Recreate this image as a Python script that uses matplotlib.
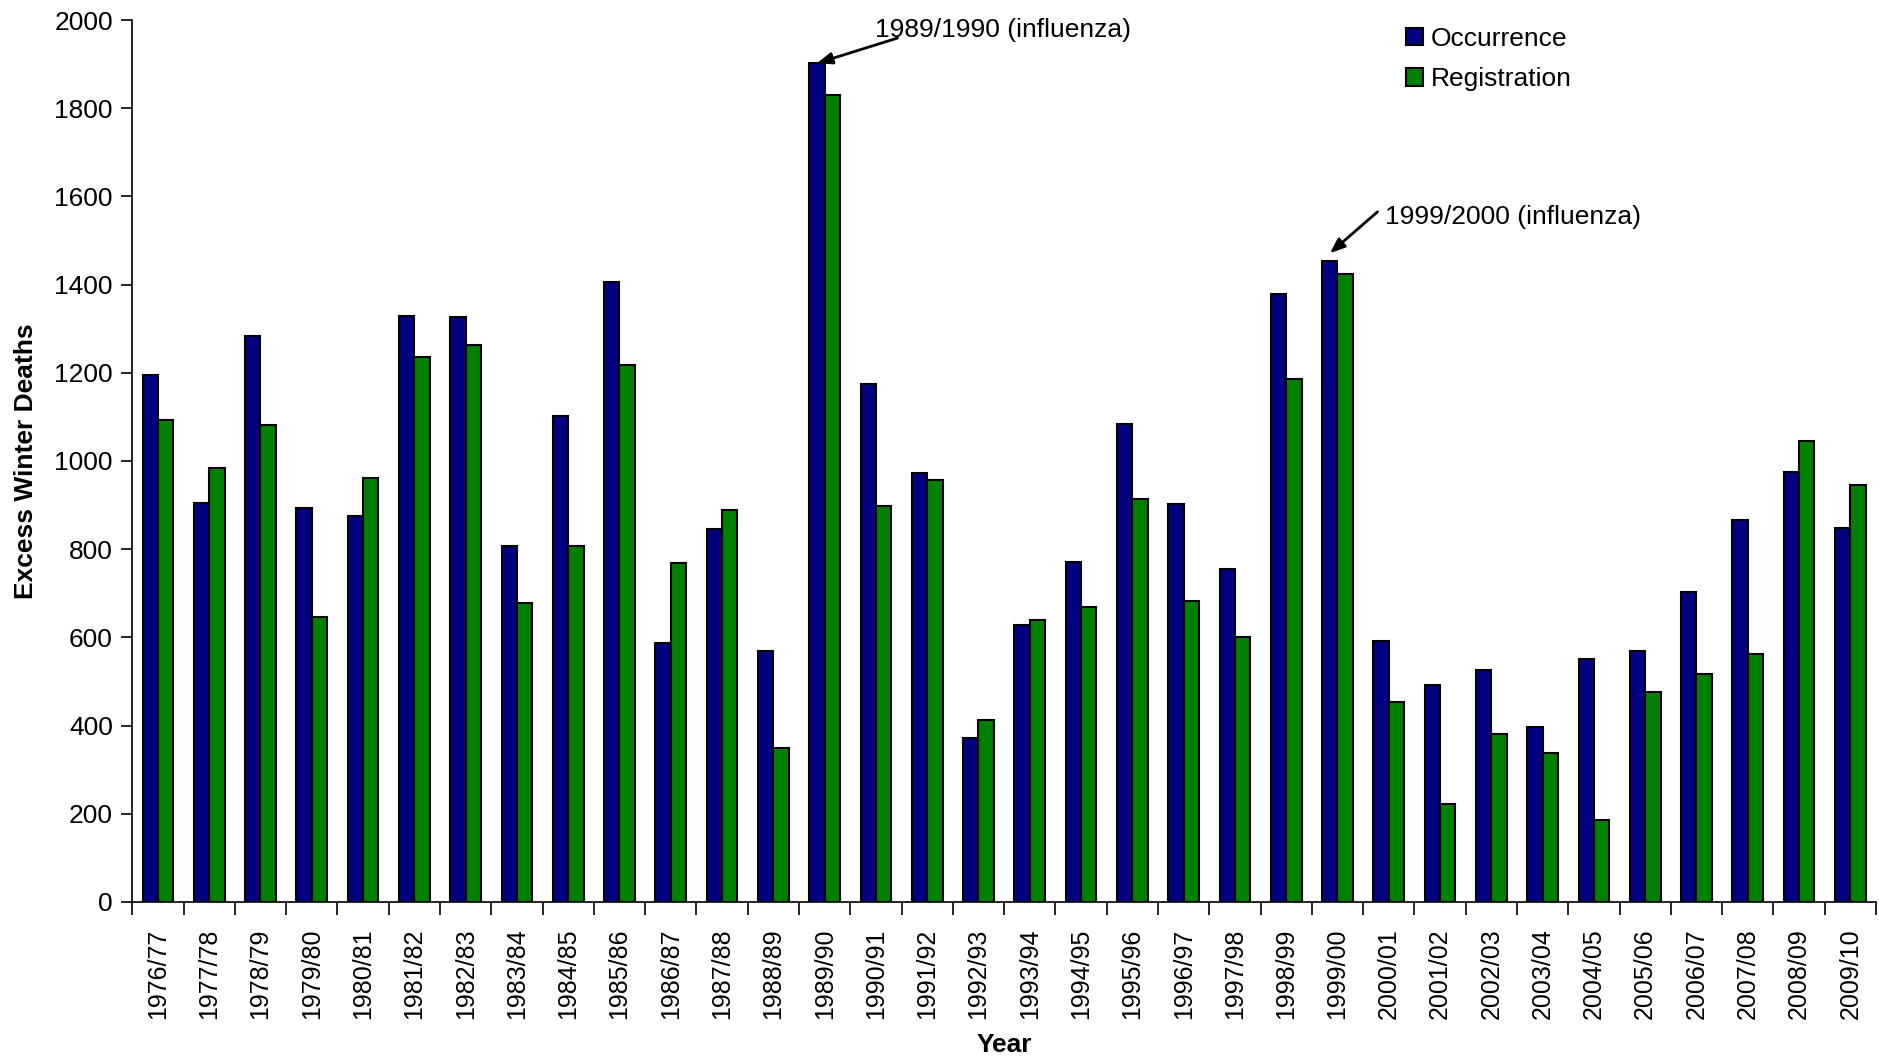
import matplotlib
matplotlib.use("Agg")
import matplotlib.pyplot as plt
import numpy as np

plt.rcParams['font.family'] = ['Liberation Sans', 'DejaVu Sans']

seasons = ["1976/77", "1977/78", "1978/79", "1979/80", "1980/81", "1981/82",
           "1982/83", "1983/84", "1984/85", "1985/86", "1986/87", "1987/88",
           "1988/89", "1989/90", "1990/91", "1991/92", "1992/93", "1993/94",
           "1994/95", "1995/96", "1996/97", "1997/98", "1998/99", "1999/00",
           "2000/01", "2001/02", "2002/03", "2003/04", "2004/05", "2005/06",
           "2006/07", "2007/08", "2008/09", "2009/10"]

occurrence = [1196, 905, 1283, 894, 875, 1329, 1326, 807, 1101, 1405, 587, 845,
              568, 1902, 1174, 973, 372, 628, 772, 1084, 902, 755, 1378, 1453,
              592, 492, 527, 397, 552, 568, 704, 867, 976, 848]

registration = [1092, 984, 1082, 647, 962, 1236, 1264, 679, 807, 1217, 769, 889,
                348, 1829, 899, 957, 413, 639, 668, 913, 682, 600, 1185, 1424,
                454, 223, 380, 337, 185, 476, 516, 562, 1046, 946]

fig = plt.figure(figsize=(18.79, 10.59), dpi=100)
ax = fig.add_axes([0.0704, 0.1483, 0.928, 0.8328])

x = np.arange(len(seasons))
w = 0.3
ax.bar(x - w / 2, occurrence, w, color="#000080", edgecolor="black",
       linewidth=1.5, label="Occurrence", zorder=2)
ax.bar(x + w / 2, registration, w, color="#008000", edgecolor="black",
       linewidth=1.5, label="Registration", zorder=2)

ax.set_xlim(-0.5, len(seasons) - 0.5)
ax.set_ylim(0, 2000)
ax.set_yticks(np.arange(0, 2001, 200))
ax.tick_params(axis="y", labelsize=19, length=8, width=1.2, direction="out", pad=6)

ax.set_xticks(x)
ax.set_xticklabels(seasons, rotation=90, fontsize=18)
ax.set_xticks(np.arange(-0.5, len(seasons), 1.0), minor=True)
ax.tick_params(axis="x", which="major", length=0, pad=19)
ax.tick_params(axis="x", which="minor", length=9, width=1.2, direction="out")

for s in ["top", "right"]:
    ax.spines[s].set_visible(False)
for s in ["left", "bottom"]:
    ax.spines[s].set_linewidth(1.2)

ax.set_ylabel("Excess Winter Deaths", fontsize=19, fontweight="bold", labelpad=12)
ax.set_xlabel("Year", fontsize=19, fontweight="bold", labelpad=10)

arrow = dict(arrowstyle="-|>,head_length=0.9,head_width=0.35", color="black",
             lw=2, shrinkA=0, shrinkB=0)
i1 = seasons.index("1989/90")
ax.annotate("", xy=(i1 - w / 2, occurrence[i1]), xytext=(i1 + 1.42, 1959),
            arrowprops=arrow, annotation_clip=False)
ax.text(i1 + 0.99, 1977, "1989/1990 (influenza)", fontsize=19,
        ha="left", va="center")

i2 = seasons.index("1999/00")
ax.annotate("", xy=(i2 - w / 2, occurrence[i2] + 18), xytext=(i2 + 0.78, 1565),
            arrowprops=arrow, annotation_clip=False)
ax.text(i2 + 0.92, 1553, "1999/2000 (influenza)", fontsize=19,
        ha="left", va="center")

leg = ax.legend(loc="upper left", bbox_to_anchor=(0.7245, 1.0045), frameon=False,
                fontsize=19, handlelength=0.65, handleheight=0.65,
                handletextpad=0.3, labelspacing=0.62, borderaxespad=0)

fig.savefig("out.png", dpi=100)
